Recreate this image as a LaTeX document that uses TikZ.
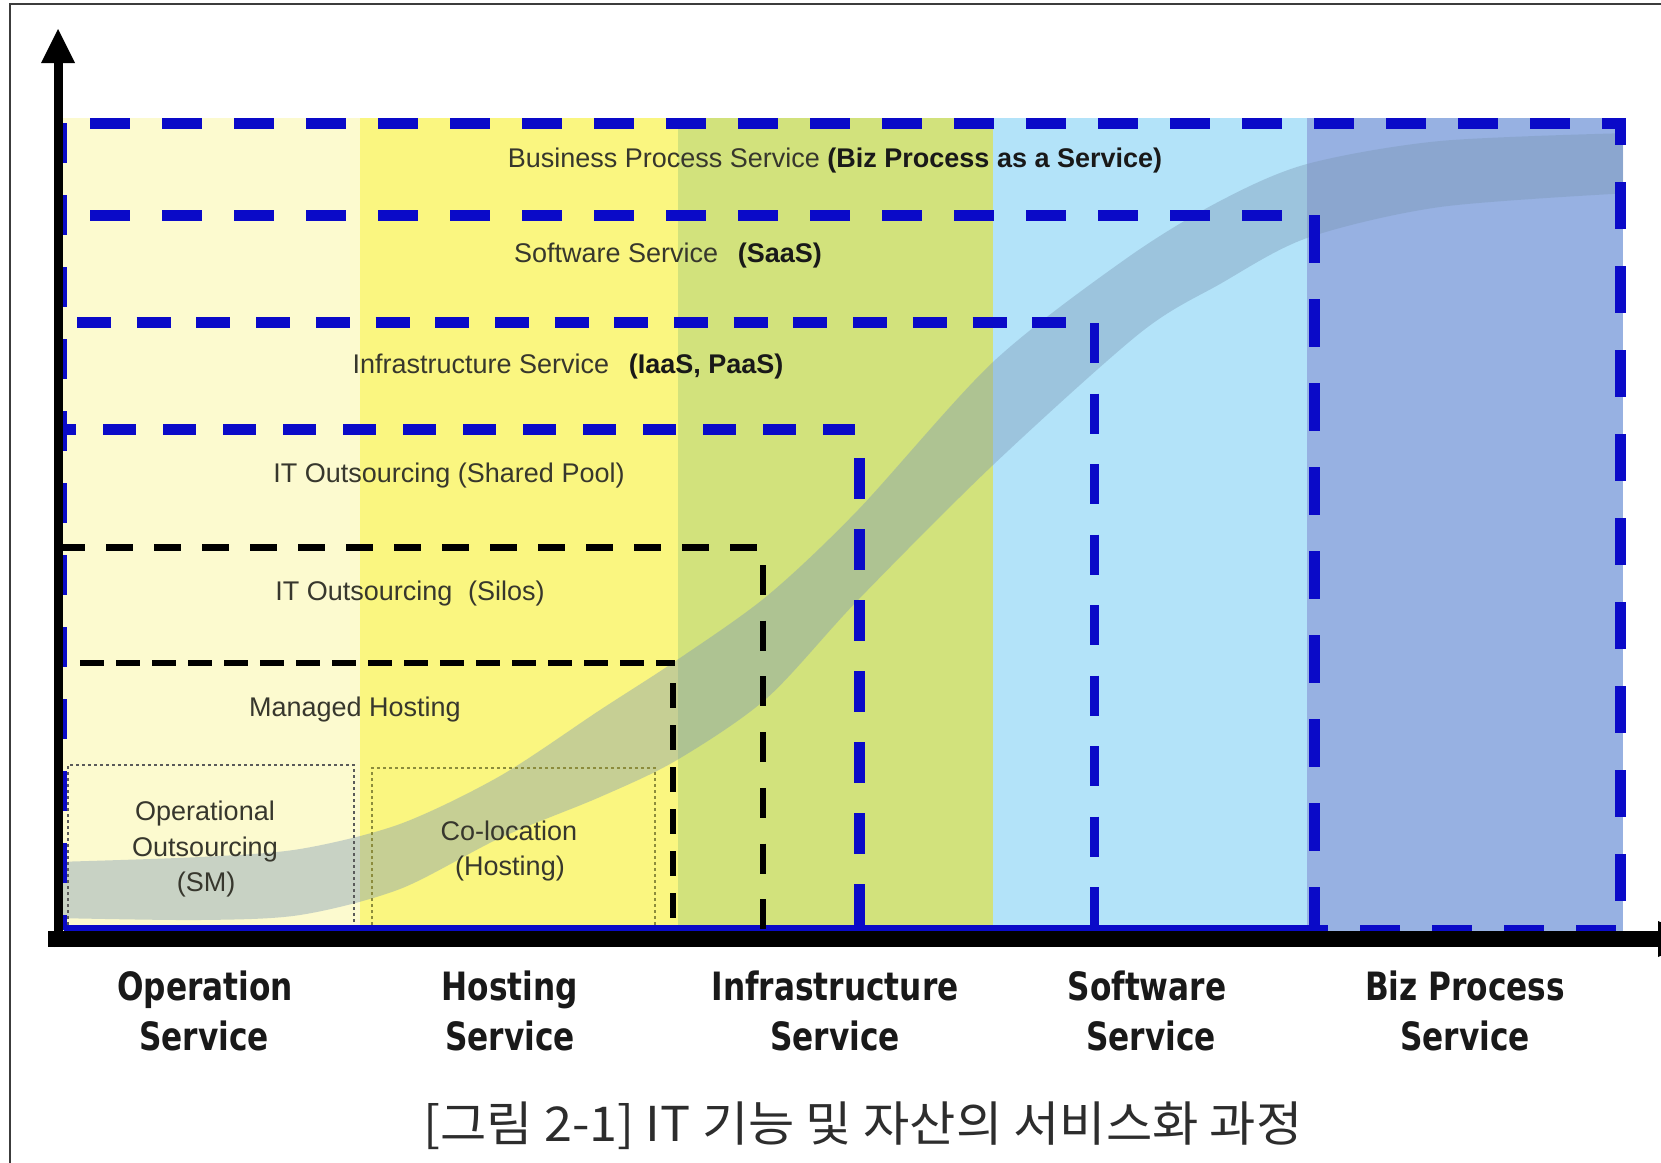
\documentclass[tikz,border=0pt]{standalone}
\usepackage{fontspec}
\setmainfont{Liberation Sans}
\newfontfamily\axfont{DejaVu Sans}
\newfontfamily\cjkfont{Noto Sans CJK KR}
\definecolor{colA}{RGB}{252,250,207}
\definecolor{colB}{RGB}{250,246,128}
\definecolor{colC}{RGB}{210,226,124}
\definecolor{colD}{RGB}{179,227,249}
\definecolor{colE}{RGB}{151,177,226}
\definecolor{bandc}{RGB}{122,150,180}
\definecolor{dblue}{RGB}{10,10,200}
\definecolor{lblgray}{RGB}{55,55,45}
\definecolor{boldgray}{RGB}{25,25,25}
\definecolor{capgray}{RGB}{45,45,45}
\definecolor{framegray}{RGB}{60,60,60}
\definecolor{dotgray}{RGB}{90,90,90}
\definecolor{dotolive}{RGB}{140,140,60}
\newcommand\axl[1]{\scalebox{0.8}[1]{#1}}
\newcommand\bk[1]{\textbf{\textcolor{boldgray}{#1}}}
\begin{document}
\begin{tikzpicture}[x=1pt,y=-1pt,
  bluehz/.style={draw=dblue, line width=11pt},
  bluevt/.style={draw=dblue, line width=11pt},
  blackhz/.style={draw=black, line width=7pt},
  blackvt/.style={draw=black, line width=5.5pt},
  dotbox/.style={line width=1.8pt, dash pattern=on 3pt off 3pt},
  inlbl/.style={font=\fontsize{27}{34}\selectfont, text=lblgray, inner sep=0pt, anchor=base},
  axlbl/.style={font=\axfont\bfseries\fontsize{39}{48}\selectfont, text=black!90, inner sep=0pt, anchor=base}]
\clip (0,0) rectangle (1661,1162);
\fill[white] (0,0) rectangle (1661,1162);
% column backgrounds
\fill[colA] (60,118) rectangle (360,932);
\fill[colB] (360,118) rectangle (678,932);
\fill[colC] (678,118) rectangle (993,932);
\fill[colD] (993,118) rectangle (1307,932);
\fill[colE] (1307,118) rectangle (1623,932);
% S-curve band
\begin{scope}
\clip (60,118) rectangle (1623,932);
\fill[bandc, fill opacity=0.4]
  plot[smooth, tension=0.5] coordinates {(55,862) (200,857) (300,849) (400,824) (500,776) (600,710) (677,660) (767,596) (858,510) (993,362) (1127,258) (1220,201) (1307,164) (1440,141) (1630,133)}
  -- plot[smooth, tension=0.5] coordinates {(1630,193) (1440,207) (1307,238) (1220,284) (1140,333) (993,465) (858,600) (767,698) (677,760) (600,797) (500,838) (400,889) (300,915) (200,920) (55,918)}
  -- cycle;
\end{scope}
% dotted boxes
\draw[dotbox, draw=dotgray] (68,931) -- (68,765) -- (354,765) -- (354,931);
\draw[dotbox, draw=dotolive] (372,931) -- (372,768) -- (655,768) -- (655,931);
% blue dashed rectangles: left and bottom edges under the axes
\draw[draw=dblue, line width=5pt, dash pattern=on 40pt off 32pt] (64,123) -- (64,930);
\draw[draw=dblue, line width=6pt, dash pattern=on 40pt off 32pt] (64,928) -- (1620,928);
\draw[draw=dblue, line width=6pt, dash pattern=on 40pt off 32pt, dash phase=36pt] (64,928) -- (1314,928);
\draw[draw=dblue, line width=6pt, dash pattern=on 33pt off 27pt, dash phase=15pt] (64,928) -- (1094,928);
% L1 Business process
\draw[bluehz, dash pattern=on 40pt off 32pt, line join=miter] (90,123) -- (1620,123) -- (1620,150);
\draw[bluevt, dash pattern=on 47pt off 37pt] (1620,182) -- (1620,931);
% L2 Software
\draw[bluehz, dash pattern=on 40pt off 32pt] (90,215) -- (1283,215);
\draw[bluevt, dash pattern=on 48pt off 36pt] (1314,215) -- (1314,931);
% L3 Infrastructure
\draw[bluehz, dash pattern=on 34pt off 25.7pt] (77,322) -- (1067,322);
\draw[bluevt, line width=9pt, dash pattern=on 40pt off 30.5pt] (1094,323) -- (1094,931);
% L4 Shared pool
\draw[bluehz, dash pattern=on 33pt off 27pt, dash phase=20pt] (63,429) -- (855,429);
\draw[bluevt, dash pattern=on 41pt off 30pt] (859,458) -- (859,931);
% L5 Silos (black)
\draw[blackhz, dash pattern=on 27pt off 21pt] (58,547) -- (757,547);
\draw[blackvt, line width=6pt, dash pattern=on 30pt off 25.7pt] (763,565) -- (763,931);
% L6 Managed hosting (black)
\draw[blackhz, line width=6pt, dash pattern=on 24pt off 12pt] (80,663) -- (675,663);
\draw[blackvt, dash pattern=on 25pt off 17pt] (673,683) -- (673,931);
% inner labels
\node[inlbl] (bps) at (835,167) {Business Process Service \bk{(Biz Process as a Service)}};
\node[inlbl] (sws) at (668,262) {Software Service\hspace{0.45em} \bk{(SaaS)}};
\node[inlbl] (ifs) at (568,373) {Infrastructure Service\hspace{0.45em} \bk{(IaaS, PaaS)}};
\node[inlbl] (itp) at (449,482) {IT Outsourcing (Shared Pool)};
\node[inlbl] (its) at (410,600) {IT Outsourcing\hspace{0.3em} (Silos)};
\node[inlbl] (mgh) at (355,716) {Managed Hosting};
\node[inlbl] (op1) at (205,820) {Operational};
\node[inlbl] (op2) at (205,856) {Outsourcing};
\node[inlbl] (op3) at (206,891) {(SM)};
\node[inlbl] (col1) at (509,840) {Co-location};
\node[inlbl] (col2) at (510,875) {(Hosting)};
% axes
\draw[black, line width=16pt] (48,939) -- (1661,939);
\fill[black] (1658,921) -- (1700,939) -- (1658,957) -- cycle;
\draw[black, line width=9pt] (58,947) -- (58,58);
\fill[black] (41,63) -- (58,29) -- (75,63) -- cycle;
% axis labels
\node[axlbl] (ax1a) at (205,1000) {\axl{Operation}};
\node[axlbl] (ax1b) at (204,1050) {\axl{Service}};
\node[axlbl] (ax2a) at (510,1000) {\axl{Hosting}};
\node[axlbl] (ax2b) at (510,1050) {\axl{Service}};
\node[axlbl] (ax3a) at (835,1000) {\axl{Infrastructure}};
\node[axlbl] (ax3b) at (835,1050) {\axl{Service}};
\node[axlbl] (ax4a) at (1147,1000) {\axl{Software}};
\node[axlbl] (ax4b) at (1151,1050) {\axl{Service}};
\node[axlbl] (ax5a) at (1465,1000) {\axl{Biz Process}};
\node[axlbl] (ax5b) at (1465,1050) {\axl{Service}};
% caption
\node[font=\cjkfont\fontsize{48}{56}\selectfont, text=capgray, inner sep=0pt, anchor=base] (cap) at (863,1141) {\resizebox{879pt}{\height}{[그림 2-1] IT 기능 및 자산의 서비스화 과정}};
% frame
\draw[framegray, line width=2pt] (10,1170) -- (10,4) -- (1670,4);
\end{tikzpicture}
\end{document}
